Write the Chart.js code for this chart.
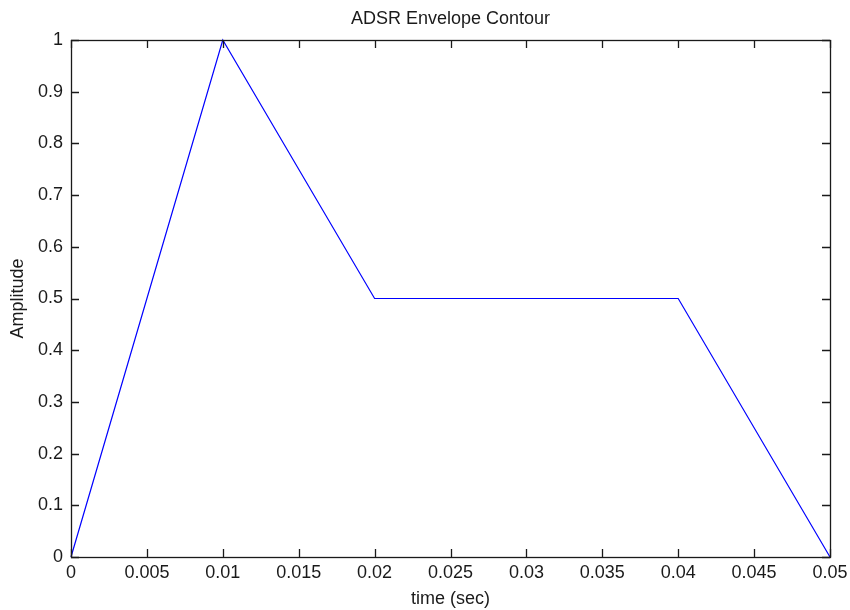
<!DOCTYPE html>
<html>
<head>
<meta charset="utf-8">
<script src="https://cdn.jsdelivr.net/npm/chart.js@4/dist/chart.umd.min.js"></script>
<style>
  html, body { margin: 0; padding: 0; background: #fff; }
  #wrap { width: 850px; height: 610px; }
</style>
</head>
<body>
<div id="wrap"><canvas id="c" width="850" height="610"></canvas></div>
<script>
// ADSR envelope breakpoints: attack, decay, sustain, release
const times = [0, 0.01, 0.02, 0.04, 0.05];
const amplitudes = [0, 1, 0.5, 0.5, 0];

// Axis tick positions
const xTicks = [0, 0.005, 0.01, 0.015, 0.02, 0.025, 0.03, 0.035, 0.04, 0.045, 0.05];
const yTicks = [0, 0.1, 0.2, 0.3, 0.4, 0.5, 0.6, 0.7, 0.8, 0.9, 1];
const xTickLabels = ['0', '0.005', '0.01', '0.015', '0.02', '0.025', '0.03', '0.035', '0.04', '0.045', '0.05'];
const yTickLabels = ['0', '0.1', '0.2', '0.3', '0.4', '0.5', '0.6', '0.7', '0.8', '0.9', '1'];
const chartTitle = 'ADSR Envelope Contour';

const FONT = '"Liberation Sans", Arial, Helvetica, sans-serif';
const INK = '#1a1a1a';

// Box around the axes with short inward tick marks on all four sides,
// plus the title centred over the plotting area
const boxTicks = {
  id: 'boxTicks',
  afterDatasetsDraw(chart) {
    const { ctx, chartArea: a, scales } = chart;
    const len = 8;
    ctx.save();
    ctx.strokeStyle = INK;
    ctx.lineWidth = 1.3;
    ctx.beginPath();
    scales.x.ticks.forEach(t => {
      const px = Math.round(scales.x.getPixelForValue(t.value)) + 0.5;
      ctx.moveTo(px, a.bottom); ctx.lineTo(px, a.bottom - len);
      ctx.moveTo(px, a.top); ctx.lineTo(px, a.top + len);
    });
    scales.y.ticks.forEach(t => {
      const py = Math.round(scales.y.getPixelForValue(t.value)) + 0.5;
      ctx.moveTo(a.left, py); ctx.lineTo(a.left + len, py);
      ctx.moveTo(a.right, py); ctx.lineTo(a.right - len, py);
    });
    ctx.stroke();
    ctx.strokeRect(Math.round(a.left) + 0.5, Math.round(a.top) + 0.5,
                   Math.round(a.right - a.left), Math.round(a.bottom - a.top));

    ctx.fillStyle = INK;
    ctx.font = '18px ' + FONT;
    ctx.textAlign = 'center';
    ctx.textBaseline = 'middle';
    ctx.fillText(chartTitle, (a.left + a.right) / 2, 19);
    ctx.restore();
  }
};

new Chart(document.getElementById('c'), {
  type: 'line',
  data: {
    datasets: [{
      data: times.map((t, i) => ({ x: t, y: amplitudes[i] })),
      borderColor: '#0000ff',
      borderWidth: 1.2,
      pointRadius: 0,
      tension: 0,
      fill: false,
      clip: false
    }]
  },
  options: {
    responsive: false,
    animation: false,
    devicePixelRatio: 1,
    layout: { padding: { left: 0, right: 20, top: 40, bottom: 0 } },
    plugins: {
      legend: { display: false },
      tooltip: { enabled: false },
      title: { display: false }
    },
    scales: {
      x: {
        type: 'linear',
        min: 0,
        max: 0.05,
        afterBuildTicks: s => { s.ticks = xTicks.map(v => ({ value: v })); },
        afterFit: s => { s.height = 53; s.paddingLeft = 0; s.paddingRight = 0; },
        grid: { display: false, drawTicks: false },
        border: { display: false },
        ticks: {
          color: INK,
          padding: 5,
          maxRotation: 0,
          autoSkip: false,
          font: { family: FONT, size: 18 },
          callback: (v, i) => xTickLabels[i]
        },
        title: {
          display: true,
          text: 'time (sec)',
          color: INK,
          font: { family: FONT, size: 18 },
          padding: { top: 0, bottom: 0 }
        }
      },
      y: {
        type: 'linear',
        min: 0,
        max: 1,
        afterBuildTicks: s => { s.ticks = yTicks.map(v => ({ value: v })); },
        afterFit: s => { s.width = 71; s.paddingTop = 0; s.paddingBottom = 0; },
        grid: { display: false, drawTicks: false },
        border: { display: false },
        ticks: {
          color: INK,
          padding: 8,
          autoSkip: false,
          font: { family: FONT, size: 18 },
          callback: (v, i) => yTickLabels[i]
        },
        title: {
          display: true,
          text: 'Amplitude',
          color: INK,
          font: { family: FONT, size: 18 },
          padding: { top: 7, bottom: 0 }
        }
      }
    }
  },
  plugins: [boxTicks]
});
</script>
</body>
</html>
